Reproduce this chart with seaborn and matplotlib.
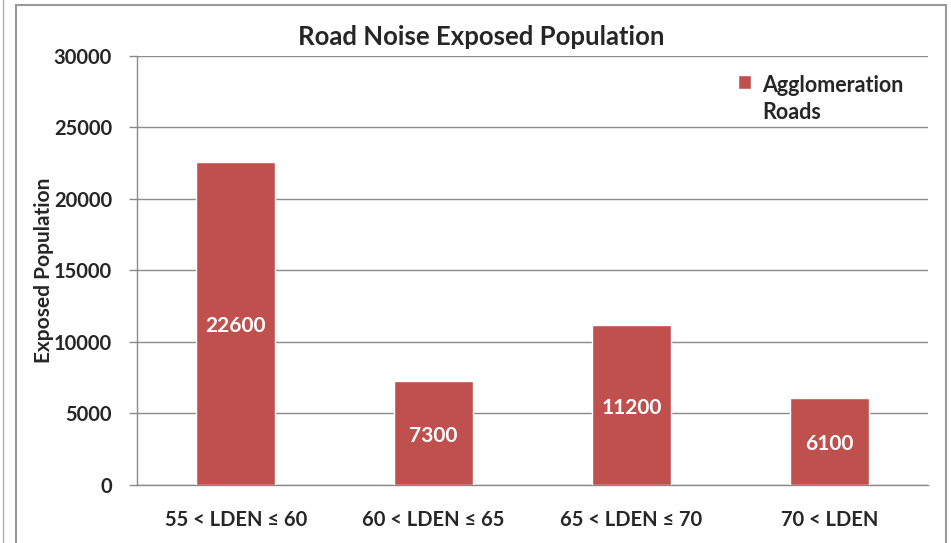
import matplotlib.pyplot as plt
import matplotlib.patches as mpatches
import seaborn as sns
import pandas as pd

categories = ['55 < LDEN ≤ 60', '60 < LDEN ≤ 65', '65 < LDEN ≤ 70', '70 < LDEN']
exposed = [22600, 7300, 11200, 6100]
series_name = 'Agglomeration\nRoads'
y_ticks = [0, 5000, 10000, 15000, 20000, 25000, 30000]

bar_color = '#C0504D'
grid_color = '#8a8a8a'

sns.set_theme(style='white')
plt.rcParams['font.family'] = ['Lato', 'DejaVu Sans']
plt.rcParams['font.weight'] = 'bold'

df = pd.DataFrame({'Band': categories, 'Exposed': exposed})

fig = plt.figure(figsize=(9.51, 5.43), dpi=100)
ax = fig.add_axes([0.144, 0.107, 0.832, 0.790])

# outer chart frame (open at the bottom, as cropped in the original)
fig.patches.append(mpatches.Rectangle((0.017, -0.05), 0.978, 1.041, transform=fig.transFigure,
                                      fill=False, edgecolor='#9a9a9a', linewidth=1.5))
fig.add_artist(plt.Line2D([0.0035, 0.0035], [0, 1], transform=fig.transFigure, color='#b0b0b0', lw=1))

sns.barplot(data=df, x='Band', y='Exposed', color=bar_color, width=0.4, saturation=1,
            ax=ax, label=series_name, zorder=3)

ax.set_ylim(0, 30000)
ax.set_xlim(-0.5, 3.5)
ax.set_yticks(y_ticks)
ax.set_yticklabels([str(t) for t in y_ticks], fontsize=14.5, fontweight='bold')
ax.set_xticks(range(len(categories)))
ax.set_xticklabels(categories, fontsize=14.5, fontweight='bold')
ax.set_xticks([-0.5, 0.5, 1.5, 2.5, 3.5], minor=True)
ax.tick_params(axis='x', which='major', length=0, pad=18)
ax.tick_params(axis='x', which='minor', length=6, color=grid_color, width=1, direction='out')
ax.tick_params(axis='y', length=6, color=grid_color, width=1, direction='out', left=True, pad=12)
ax.yaxis.grid(True, color=grid_color, linewidth=1, zorder=0)
ax.set_axisbelow(True)

for side in ['top', 'right']:
    ax.spines[side].set_visible(False)
for side in ['left', 'bottom']:
    ax.spines[side].set_color(grid_color)
    ax.spines[side].set_linewidth(1)

ax.set_xlabel('')
ax.set_ylabel('Exposed Population', fontsize=15, fontweight='bold', labelpad=0)
# title is centred on the chart frame, not on the plot area
ax.set_title('Road Noise Exposed Population', fontsize=18.5, fontweight='bold', pad=8, x=0.435)

for i, v in enumerate(exposed):
    ax.text(i, v / 2 - 200, str(v), ha='center', va='center', color='white',
            fontsize=15, fontweight='bold', zorder=4)

leg = ax.legend(loc='upper right', bbox_to_anchor=(0.993, 1.0), frameon=False,
                fontsize=15.5, handlelength=0.6, handleheight=0.6, handletextpad=0.5,
                labelspacing=0.2)
for t in leg.get_texts():
    t.set_fontweight('bold')
    t.set_linespacing(1.35)
# put the colour square next to the first line of the label
for col in leg._legend_handle_box.get_children():
    for row in col.get_children():
        row.align = 'top'

fig.savefig('out.png', dpi=100)
plt.close(fig)
